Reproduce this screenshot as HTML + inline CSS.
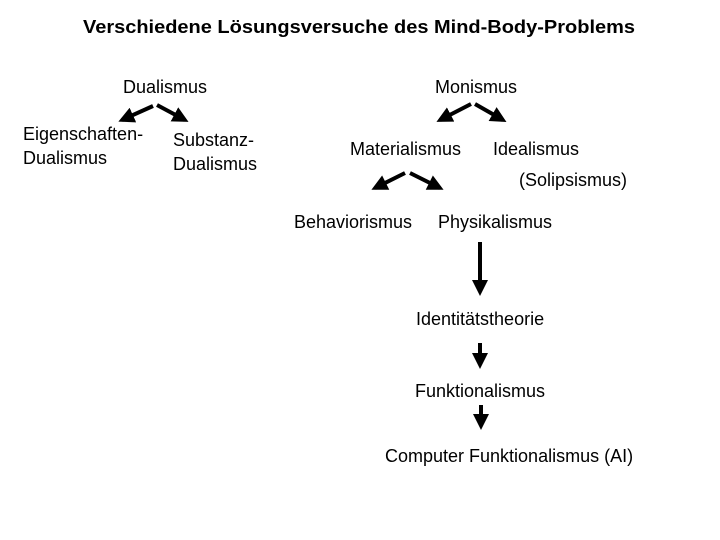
<!DOCTYPE html>
<html><head><meta charset="utf-8"><style>
html,body{margin:0;padding:0;background:#fff;}
svg{display:block;}
text{font-family:"Liberation Sans",Arial,sans-serif;font-size:18px;fill:#000;}
</style></head><body>
<svg width="720" height="540" viewBox="0 0 720 540" xmlns="http://www.w3.org/2000/svg">
<defs>
<marker id="a" markerWidth="4" markerHeight="4" refX="3" refY="2" orient="auto" markerUnits="strokeWidth">
<path d="M0,0 L4,2 L0,4 z" fill="#000"/>
</marker>
</defs>
<text x="83" y="33" font-weight="bold" textLength="552" lengthAdjust="spacingAndGlyphs">Verschiedene Lösungsversuche des Mind-Body-Problems</text>
<text x="123" y="93">Dualismus</text>
<text x="435" y="93">Monismus</text>
<text x="23" y="140">Eigenschaften-</text>
<text x="23" y="164">Dualismus</text>
<text x="173" y="146">Substanz-</text>
<text x="173" y="170">Dualismus</text>
<text x="350" y="155">Materialismus</text>
<text x="493" y="155">Idealismus</text>
<text x="519" y="186">(Solipsismus)</text>
<text x="294" y="228">Behaviorismus</text>
<text x="438" y="228">Physikalismus</text>
<text x="416" y="325">Identitätstheorie</text>
<text x="415" y="397">Funktionalismus</text>
<text x="385" y="462">Computer Funktionalismus (AI)</text>
<g stroke="#000" stroke-width="4" fill="none">
<line x1="153" y1="106" x2="122" y2="120" marker-end="url(#a)"/>
<line x1="157" y1="105" x2="185" y2="120" marker-end="url(#a)"/>
<line x1="471" y1="104" x2="440" y2="120" marker-end="url(#a)"/>
<line x1="475" y1="104" x2="503" y2="120" marker-end="url(#a)"/>
<line x1="405" y1="173" x2="375" y2="188" marker-end="url(#a)"/>
<line x1="410" y1="173" x2="440" y2="188" marker-end="url(#a)"/>
<line x1="480" y1="242" x2="480" y2="292" marker-end="url(#a)"/>
<line x1="480" y1="343" x2="480" y2="365" marker-end="url(#a)"/>
<line x1="481" y1="405" x2="481" y2="426" marker-end="url(#a)"/>
</g>
</svg>
</body></html>
